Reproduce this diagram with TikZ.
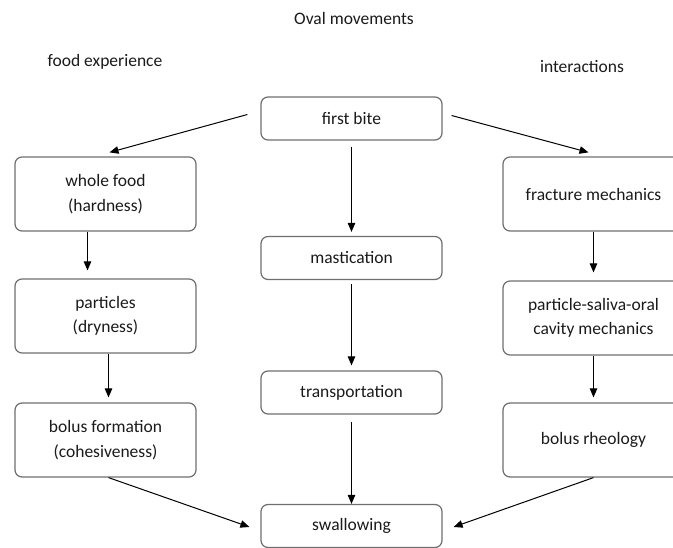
\documentclass[tikz,border=0pt]{standalone}
\usepackage{fontspec}
\setmainfont{Carlito}
\usetikzlibrary{arrows.meta}
\definecolor{boxgray}{HTML}{6E6E6E}
\definecolor{txtgray}{HTML}{1A1A1A}
\begin{document}
\begin{tikzpicture}[x=1pt,y=-1pt,>={Triangle[length=9pt,width=7.5pt]},
  font=\fontsize{17.5}{24.5}\selectfont, text=txtgray, line join=round,
  stepbox/.style={draw=boxgray,line width=1.2pt,rounded corners=7pt,
    minimum width=181pt,align=center,inner sep=0pt},
  flat/.style={stepbox,minimum height=43pt},
  tall/.style={stepbox,minimum height=74pt},
  arr/.style={->,line width=1pt}]
\useasboundingbox (0,0) rectangle (673,548);
% headings
\node (title) at (354,18) {Oval movements};
\node (foodexp) at (105,62) {food experience};
\node (inter) at (582,67) {interactions};
% middle column
\node[flat] (first) at (351.5,118.5) {first bite};
\node[flat] (mast) at (351.5,258) {mastication};
\node[flat] (trans) at (351.5,392.5) {transportation};
\node[flat] (swal) at (351.5,526) {swallowing};
% left column
\node[tall] (whole) at (105.5,194) {whole food\\(hardness)};
\node[tall] (part) at (105.5,316) {particles\\(dryness)};
\node[tall] (bolusf) at (105.5,440) {bolus formation\\(cohesiveness)};
% right column
\node[tall] (frac) at (593.5,194) {fracture mechanics};
\node[tall] (psom) at (593.5,318) {particle-saliva-oral\\cavity mechanics};
\node[tall] (bolusr) at (593.5,440) {bolus rheology};
% arrows
\draw[arr] ([xshift=-13pt,yshift=4pt]first.west) -- ([xshift=4pt,yshift=4pt]whole.north);
\draw[arr] ([xshift=9pt,yshift=3pt]first.east) -- ([xshift=-5pt,yshift=4pt]frac.north);
\draw[arr] ([yshift=-6pt]first.south) -- ([yshift=4pt]mast.north);
\draw[arr] ([yshift=-4pt]mast.south) -- ([yshift=5pt]trans.north);
\draw[arr] ([yshift=-7pt]trans.south) -- (swal.north);
\draw[arr] ([xshift=-18pt]whole.south) -- ([xshift=-18pt,yshift=8pt]part.north);
\draw[arr] ([xshift=3pt]part.south) -- ([xshift=3pt,yshift=5pt]bolusf.north);
\draw[arr] (frac.south) -- ([yshift=8pt]psom.north);
\draw[arr] (psom.south) -- ([yshift=5pt]bolusr.north);
\draw[arr] ([xshift=3pt]bolusf.south) -- ([xshift=-11pt,yshift=-1pt]swal.west);
\draw[arr] (bolusr.south) -- ([xshift=11pt,yshift=-1pt]swal.east);
\end{tikzpicture}
\end{document}
